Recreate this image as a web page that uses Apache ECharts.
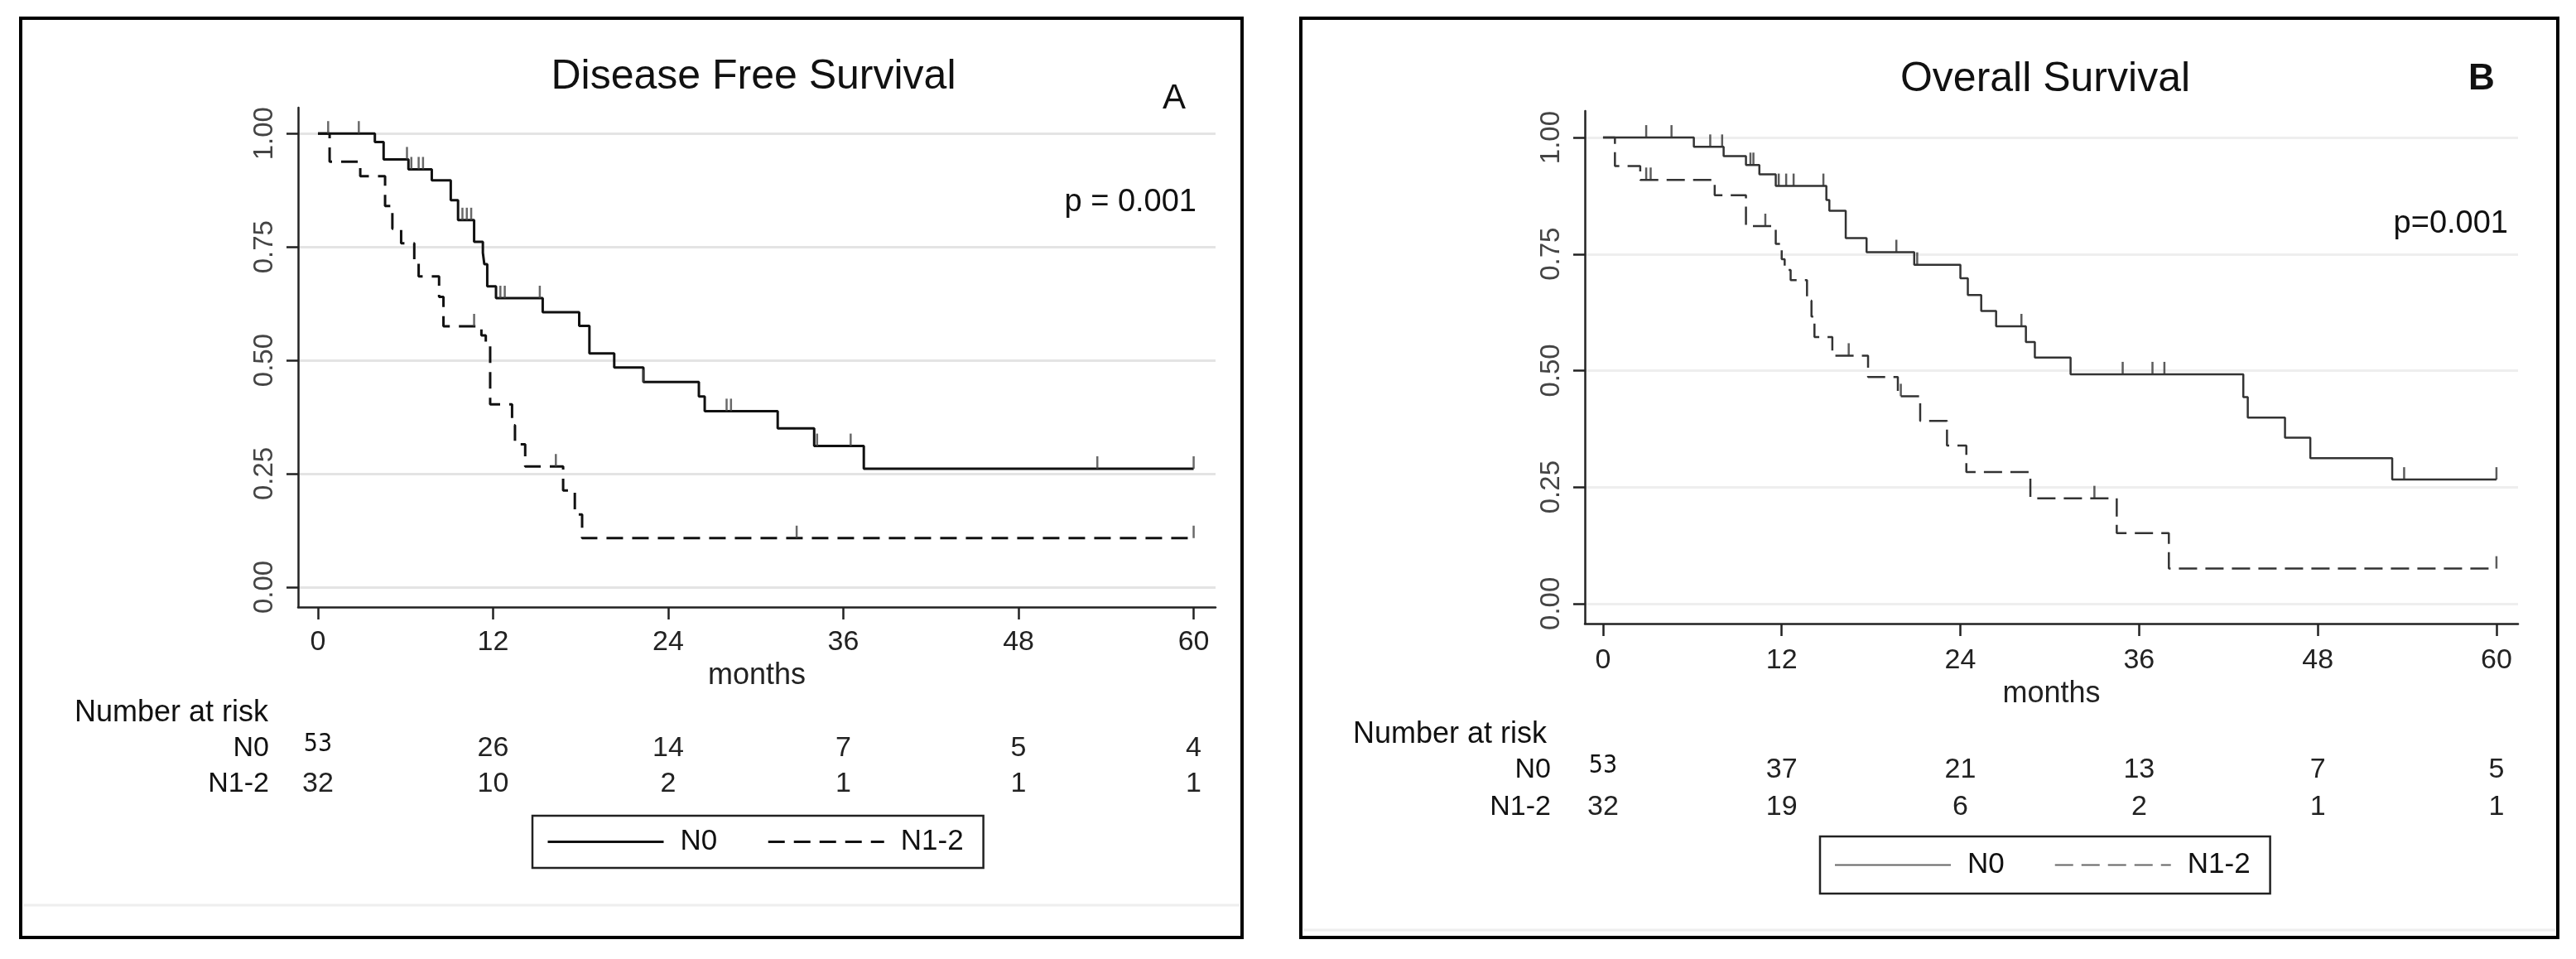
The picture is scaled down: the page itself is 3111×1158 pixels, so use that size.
<!DOCTYPE html>
<html>
<head>
<meta charset="utf-8">
<script src="https://cdn.jsdelivr.net/npm/echarts@6/dist/echarts.min.js"></script>
<style>
html,body{margin:0;padding:0;background:#fff;}
#chart{width:3111px;height:1158px;}
</style>
</head>
<body>
<div id="chart"></div>
<script>
// ---------- data ----------
const months = [0, 12, 24, 36, 48, 60];
const yTicks = [0, 0.25, 0.5, 0.75, 1];
const groups = ['N0', 'N1-2'];

// Panel A: Disease Free Survival, Kaplan-Meier steps [month, survival]
const dfsN0Steps = [[0,1],[3.9,0.981],[4.5,0.943],[6.2,0.921],[7.8,0.897],[9.1,0.853],[9.6,0.809],[10.7,0.761],[11.3,0.737],[11.4,0.712],[11.6,0.663],[12.2,0.637],[15.4,0.606],[17.9,0.576],[18.6,0.515],[20.3,0.484],[22.3,0.452],[26.1,0.420],[26.5,0.388],[31.5,0.350],[34.0,0.311],[37.4,0.261],[60,0.261]];
const dfsN0Censor = [0.7, 2.8, 6.1, 6.4, 6.9, 7.2, 9.9, 10.2, 10.5, 12.5, 12.8, 15.2, 22.3, 28.0, 28.3, 34.2, 36.5, 53.4, 60];
const dfsN12Steps = [[0,1],[0.8,0.938],[2.9,0.906],[4.6,0.84],[5.1,0.79],[5.7,0.758],[6.6,0.72],[6.9,0.685],[8.3,0.64],[8.6,0.575],[11.2,0.555],[11.5,0.533],[11.8,0.403],[13.3,0.357],[13.5,0.315],[14.2,0.266],[16.8,0.213],[17.6,0.16],[18.1,0.108],[60,0.108]];
const dfsN12Censor = [10.7, 16.3, 32.8, 60];
const dfsRiskN0 = [53, 26, 14, 7, 5, 4];
const dfsRiskN12 = [32, 10, 2, 1, 1, 1];

// Panel B: Overall Survival
const osN0Steps = [[0,1],[6.1,0.980],[8.1,0.960],[9.6,0.941],[10.5,0.921],[11.6,0.896],[15.0,0.866],[15.2,0.843],[16.3,0.784],[17.7,0.754],[20.9,0.727],[24.0,0.698],[24.5,0.662],[25.4,0.628],[26.4,0.595],[28.4,0.561],[29.0,0.528],[31.4,0.492],[43.0,0.443],[43.3,0.399],[45.8,0.356],[47.5,0.312],[53.0,0.266],[60,0.266]];
const osN0Censor = [2.9, 4.6, 7.2, 8.0, 9.9, 10.1, 11.8, 12.3, 12.8, 14.8, 19.7, 21.1, 28.1, 34.9, 36.9, 37.7, 53.8, 60];
const osN12Steps = [[0,1],[0.8,0.939],[2.5,0.909],[7.5,0.876],[9.6,0.81],[11.6,0.772],[12.0,0.739],[12.2,0.716],[12.6,0.694],[13.7,0.65],[14.0,0.616],[14.2,0.572],[15.4,0.532],[17.8,0.486],[19.8,0.445],[21.3,0.392],[23.1,0.339],[24.4,0.282],[28.7,0.226],[34.5,0.151],[38.0,0.075],[60,0.075]];
const osN12Censor = [2.9, 3.2, 10.9, 16.5, 20.0, 33.0, 60];
const osRiskN0 = [53, 37, 21, 13, 7, 5];
const osRiskN12 = [32, 19, 6, 2, 1, 1];

// ---------- helpers ----------
const FONT = '"Liberation Sans", Arial, Helvetica, sans-serif';
function stepAt(steps, t) {
  let s = steps[0][1];
  for (const p of steps) { if (p[0] <= t) s = p[1]; }
  return s;
}
function censorPoints(steps, times) { return times.map(t => [t, stepAt(steps, t)]); }

function mainX(grid, min, max, margin, nameGap) {
  return {
    type: 'value', gridIndex: grid, min: min, max: max, position: 'bottom',
    axisLine: { show: true, onZero: false, lineStyle: { color: '#222', width: 2.5 } },
    axisTick: { show: true, length: 15, customValues: months, lineStyle: { color: '#222', width: 2.5 } },
    axisLabel: { show: true, customValues: months, margin: margin, fontSize: 34, lineHeight: 34, color: '#222', fontFamily: FONT },
    splitLine: { show: false },
    name: 'months', nameLocation: 'middle', nameGap: nameGap,
    nameTextStyle: { fontSize: 36, lineHeight: 36, color: '#222', fontFamily: FONT }
  };
}
function riskX(grid, min, max, offset, values, smallFirst) {
  return {
    type: 'value', gridIndex: grid, min: min, max: max, position: 'bottom', offset: offset,
    axisLine: { show: false, onZero: false }, axisTick: { show: false }, splitLine: { show: false },
    axisLabel: {
      show: true, customValues: months, margin: 0, fontSize: 34, lineHeight: 34, color: '#222', fontFamily: FONT,
      formatter: function (v) {
        const i = months.indexOf(v);
        if (i < 0) return '';
        return (i === 0 && smallFirst) ? '{s|' + values[i] + '}' : String(values[i]);
      },
      rich: { s: { fontSize: 30, fontFamily: '"DejaVu Sans Condensed", "Liberation Sans", sans-serif', color: '#111', padding: [0, 0, 10, 0] } }
    }
  };
}
function mainY(grid, min, max, gridColor) {
  return {
    type: 'value', gridIndex: grid, min: min, max: max,
    axisLine: { show: true, onZero: false, lineStyle: { color: '#222', width: 2.5 } },
    axisTick: { show: true, length: 14, customValues: yTicks, lineStyle: { color: '#222', width: 2.5 } },
    axisLabel: { show: true, customValues: yTicks, rotate: 90, margin: 24, fontSize: 33, color: '#444', fontFamily: FONT,
      formatter: v => v.toFixed(2) },
    splitLine: { show: true, lineStyle: { color: gridColor, width: 3 } }
  };
}
function kmSeries(name, xi, yi, steps, color, width, type) {
  return { name: name, type: 'line', step: 'end', xAxisIndex: xi, yAxisIndex: yi, data: steps,
    symbol: 'none', showSymbol: false, lineStyle: { color: color, width: width, type: type },
    itemStyle: { color: color }, z: 3, silent: true };
}
function censorSeries(name, xi, yi, pts, color, w) {
  return { name: name, type: 'scatter', xAxisIndex: xi, yAxisIndex: yi, data: pts,
    symbol: 'rect', symbolSize: [w, 15], symbolOffset: [0, '-50%'], itemStyle: { color: color }, z: 4, silent: true };
}
function legendFor(prefix, left, top, vpad, lineColor, lineWidth) {
  return {
    data: groups.map(g => prefix + ':' + g), formatter: n => n.split(':')[1],
    left: left, top: top, orient: 'horizontal', itemWidth: 140, itemHeight: 20, itemGap: 60,
    padding: [vpad, 24, vpad, 17], borderColor: '#222', borderWidth: 2.5, borderRadius: 0,
    itemStyle: { opacity: 0, color: 'rgba(0,0,0,0)', borderWidth: 0 },
    lineStyle: { color: lineColor, width: lineWidth },
    textStyle: { fontSize: 35, fontFamily: FONT, color: '#111', padding: [0, 0, 0, 15] }, selectedMode: false
  };
}
function txt(x, y, text, size, align, extra) {
  return { type: 'text', x: x, y: y, silent: true,
    style: Object.assign({ text: text, fontSize: size, fontFamily: FONT, fill: '#111', align: align, verticalAlign: 'middle' }, extra || {}) };
}

const AX = [-1.36, 61.5], AY = [-0.044, 1.057];
const BX = [-1.22, 61.45], BY = [-0.043, 1.057];

const chart = echarts.init(document.getElementById('chart'), null, { renderer: 'canvas' });
chart.setOption({
  animation: false,
  backgroundColor: '#fff',
  grid: [
    { left: 360, top: 130, width: 1108, height: 603, containLabel: false },
    { left: 1914, top: 134, width: 1127, height: 619, containLabel: false }
  ],
  xAxis: [
    mainX(0, AX[0], AX[1], 26, 62),
    riskX(0, AX[0], AX[1], 154, dfsRiskN0, true),
    riskX(0, AX[0], AX[1], 197, dfsRiskN12, false),
    mainX(1, BX[0], BX[1], 28, 66),
    riskX(1, BX[0], BX[1], 160, osRiskN0, true),
    riskX(1, BX[0], BX[1], 205, osRiskN12, false)
  ],
  yAxis: [ mainY(0, AY[0], AY[1], '#e4e4e4'), mainY(1, BY[0], BY[1], '#eeeeee') ],
  legend: [ legendFor('A', 643, 985, 14, '#111', 3), legendFor('B', 2198, 1010, 17, '#666', 2) ],
  series: [
    kmSeries('A:N0', 0, 0, dfsN0Steps, '#111', 3, 'solid'),
    kmSeries('A:N1-2', 0, 0, dfsN12Steps, '#111', 3, [20, 11]),
    censorSeries('A:N0 censored', 0, 0, censorPoints(dfsN0Steps, dfsN0Censor), '#444', 2.5),
    censorSeries('A:N1-2 censored', 0, 0, censorPoints(dfsN12Steps, dfsN12Censor), '#444', 2.5),
    kmSeries('B:N0', 3, 1, osN0Steps, '#333', 2.5, 'solid'),
    kmSeries('B:N1-2', 3, 1, osN12Steps, '#333', 2.5, [22, 10]),
    censorSeries('B:N0 censored', 3, 1, censorPoints(osN0Steps, osN0Censor), '#333', 2.5),
    censorSeries('B:N1-2 censored', 3, 1, censorPoints(osN12Steps, osN12Censor), '#333', 2.5)
  ],
  graphic: [
    { type: 'rect', shape: { x: 25, y: 22, width: 1475, height: 1110 }, style: { fill: 'none', stroke: '#000', lineWidth: 4 }, silent: true },
    { type: 'line', shape: { x1: 28, y1: 1093, x2: 1497, y2: 1093 }, style: { stroke: '#eeeeee', lineWidth: 3 }, silent: true },
    { type: 'rect', shape: { x: 1571, y: 22, width: 1518, height: 1110 }, style: { fill: 'none', stroke: '#000', lineWidth: 4 }, silent: true },
    { type: 'line', shape: { x1: 1574, y1: 1123, x2: 3086, y2: 1123 }, style: { stroke: '#eeeeee', lineWidth: 3 }, silent: true },
    txt(910, 93, 'Disease Free Survival', 50, 'center'),
    txt(1418, 119, 'A', 42, 'center'),
    txt(1445, 245, 'p = 0.001', 38, 'right'),
    txt(90, 861, 'Number at risk', 36, 'left'),
    txt(325, 904, 'N0', 34, 'right'),
    txt(325, 947, 'N1-2', 34, 'right'),
    txt(2470, 96, 'Overall Survival', 50, 'center'),
    txt(2997, 96, 'B', 44, 'center', { fontWeight: 'bold' }),
    txt(3029, 271, 'p=0.001', 38, 'right'),
    txt(1634, 887, 'Number at risk', 36, 'left'),
    txt(1873, 930, 'N0', 34, 'right'),
    txt(1873, 975, 'N1-2', 34, 'right')
  ]
});
</script>
</body>
</html>
